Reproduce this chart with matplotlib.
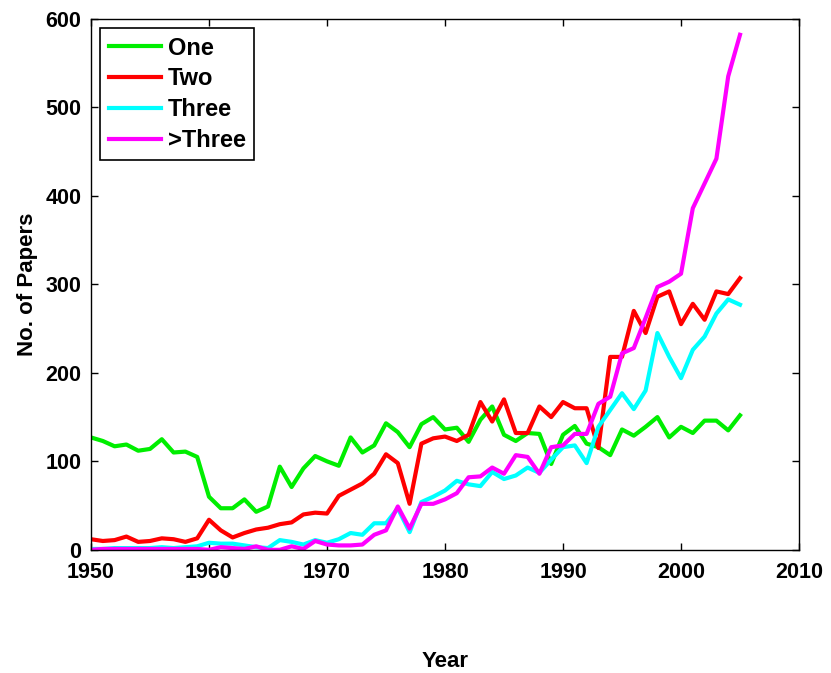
import matplotlib
matplotlib.use("Agg")
import matplotlib.pyplot as plt

# Papers per year by number of authors
years = list(range(1950, 2006))

one = [127, 123, 117, 119, 112, 114, 125, 110, 111, 105,
       60, 47, 47, 57, 43, 49, 94, 71, 92, 106,
       100, 95, 127, 110, 118, 143, 133, 116, 142, 150,
       136, 138, 122, 147, 162, 130, 123, 132, 131, 97,
       130, 140, 120, 116, 107, 136, 129, 139, 150, 127,
       139, 132, 146, 146, 135, 152]

two = [12, 10, 11, 15, 9, 10, 13, 12, 9, 13,
       34, 22, 14, 19, 23, 25, 29, 31, 40, 42,
       41, 61, 68, 75, 86, 108, 98, 52, 120, 126,
       128, 123, 130, 167, 145, 170, 132, 132, 162, 150,
       167, 160, 160, 115, 218, 218, 270, 245, 286, 292,
       255, 278, 260, 292, 289, 307]

three = [1, 1, 2, 2, 2, 2, 3, 2, 3, 4,
         8, 7, 7, 5, 3, 2, 11, 9, 6, 11,
         8, 12, 19, 17, 30, 30, 47, 20, 54, 60,
         67, 78, 74, 72, 88, 80, 84, 93, 87, 102,
         116, 118, 98, 139, 158, 177, 159, 180, 245, 218,
         194, 226, 241, 267, 283, 277]

more = [0, 1, 1, 1, 1, 1, 1, 1, 1, 1,
        0, 3, 2, 1, 4, 0, 0, 4, 1, 10,
        6, 5, 5, 6, 17, 22, 49, 24, 52, 52,
        57, 64, 82, 83, 93, 86, 107, 105, 86, 116,
        118, 131, 131, 165, 173, 222, 228, 262, 297, 303,
        312, 386, 414, 442, 535, 582]

series = [("One", one, "#00ee00"),
          ("Two", two, "#ff0000"),
          ("Three", three, "#00ffff"),
          (">Three", more, "#ff00ff")]

plt.rcParams["font.family"] = ["Liberation Sans", "DejaVu Sans"]
plt.rcParams["font.weight"] = "bold"

fig = plt.figure(figsize=(8.31, 6.73), dpi=100)
ax = fig.add_axes([0.1095, 0.183, 0.852, 0.789])

for name, vals, color in series:
    ax.plot(years, vals, color=color, lw=3, label=name)

ax.set_xlim(1950, 2010)
ax.set_ylim(0, 600)
ax.set_xticks(range(1950, 2011, 10))
ax.set_yticks(range(0, 601, 100))
ax.tick_params(direction="in", top=True, right=True, length=5,
               labelsize=15.5, width=1)
ax.tick_params(axis="x", pad=9)
ax.tick_params(axis="y", pad=7)
for lbl in ax.get_xticklabels() + ax.get_yticklabels():
    lbl.set_fontweight("bold")
for sp in ax.spines.values():
    sp.set_linewidth(1)

ax.set_xlabel("Year", fontsize=16, fontweight="bold", labelpad=49)
ax.set_ylabel("No. of Papers", fontsize=16, fontweight="bold", labelpad=5)

leg = ax.legend(loc="upper left", handlelength=2.2,
                borderaxespad=0.4, fancybox=False, framealpha=1,
                edgecolor="black", labelspacing=0.33, handletextpad=0.3,
                borderpad=0.35,
                prop={"weight": "bold", "size": 17})
leg.get_frame().set_linewidth(1.2)

fig.savefig("out.png", dpi=100)
